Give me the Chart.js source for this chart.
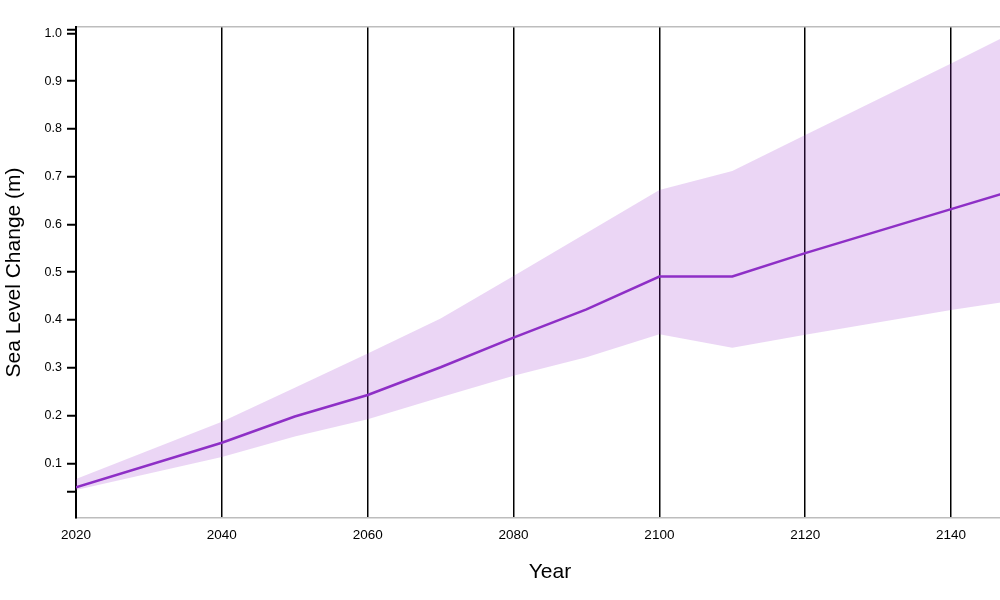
<!DOCTYPE html>
<html>
<head>
<meta charset="utf-8">
<script src="https://cdn.jsdelivr.net/npm/chart.js@4.4.1/dist/chart.umd.min.js"></script>
<style>
html, body { margin: 0; padding: 0; overflow: hidden; background: #fff; }
canvas { display: block; }
</style>
</head>
<body>
<canvas id="c" width="1024" height="600"></canvas>
<script>
// ---- data ----
const years      = [2020, 2040, 2050, 2060, 2070, 2080, 2090, 2100, 2110, 2120, 2140, 2150];
const medianRise = [0.050, 0.143, 0.198, 0.243, 0.301, 0.363, 0.422, 0.491, 0.491, 0.540, 0.632, 0.678];
const upperRise  = [0.067, 0.187, 0.258, 0.330, 0.403, 0.492, 0.582, 0.672, 0.712, 0.787, 0.937, 1.013];
const lowerRise  = [0.044, 0.113, 0.156, 0.192, 0.238, 0.283, 0.322, 0.370, 0.342, 0.369, 0.421, 0.444];

const xTickValues = [2020, 2040, 2060, 2080, 2100, 2120, 2140];
const yTickValues = [0.1, 0.2, 0.3, 0.4, 0.5, 0.6, 0.7, 0.8, 0.9, 1.0];
const yOuterTicks = [0.04, 1.008];   // unlabeled domain-end ticks
const xMin = 2020, xMax = 2150;
const yMin = -0.0145, yMax = 1.0132;

const FONT = "Arial, 'Liberation Sans', Helvetica, sans-serif";

const toPts = arr => years.map((y, i) => ({ x: y, y: arr[i] }));

new Chart(document.getElementById('c'), {
  type: 'line',
  data: {
    datasets: [
      {
        label: 'Upper',
        data: toPts(upperRise),
        borderWidth: 0,
        borderColor: 'rgba(0,0,0,0)',
        backgroundColor: 'rgba(153, 51, 204, 0.2)',
        pointRadius: 0,
        fill: '+1',
        tension: 0
      },
      {
        label: 'Lower',
        data: toPts(lowerRise),
        borderWidth: 0,
        borderColor: 'rgba(0,0,0,0)',
        pointRadius: 0,
        fill: false,
        tension: 0
      },
      {
        label: 'Median',
        data: toPts(medianRise),
        borderColor: '#8b2fc5',
        borderWidth: 2.5,
        pointRadius: 0,
        fill: false,
        tension: 0
      }
    ]
  },
  options: {
    responsive: false,
    animation: false,
    layout: { padding: { top: 27, right: 0, bottom: 0, left: 0 } },
    plugins: { legend: { display: false }, tooltip: { enabled: false } },
    scales: {
      x: {
        type: 'linear',
        min: xMin,
        max: xMax,
        afterBuildTicks: s => { s.ticks = xTickValues.map(v => ({ value: v })); },
        afterFit: s => { s.height = 82; },
        ticks: {
          autoSkip: false,
          maxRotation: 0,
          color: '#000',
          padding: 9,
          font: { family: FONT, size: 13.5 },
          callback: v => String(v)
        },
        grid: {
          drawTicks: false,
          lineWidth: 1.5,
          color: ctx => (ctx.tick && ctx.tick.value === xMin) ? 'rgba(0,0,0,0)' : '#000'
        },
        border: { color: '#bdbdbd', width: 1.5 },
        title: {
          display: true,
          text: 'Year',
          color: '#000',
          font: { family: FONT, size: 21 },
          padding: { top: 0, bottom: 15 }
        }
      },
      y: {
        type: 'linear',
        min: yMin,
        max: yMax,
        afterBuildTicks: s => {
          s.ticks = [yOuterTicks[0], ...yTickValues, yOuterTicks[1], yMax].map(v => ({ value: v }));
        },
        afterFit: s => { s.width = 76; },
        ticks: {
          color: '#000',
          padding: 5,
          font: { family: FONT, size: 12.5 },
          callback: v => yTickValues.includes(v) ? v.toFixed(1) : ''
        },
        grid: {
          drawOnChartArea: true,
          lineWidth: 1.5,
          tickLength: 9,
          tickWidth: 2,
          color: ctx => (ctx.tick && ctx.tick.value === yMax) ? '#bdbdbd' : 'rgba(0,0,0,0)',
          tickColor: ctx => (ctx.tick && ctx.tick.value === yMax) ? 'rgba(0,0,0,0)' : '#000'
        },
        border: { color: '#000', width: 2 },
        title: {
          display: true,
          text: 'Sea Level Change (m)',
          color: '#000',
          font: { family: FONT, size: 21 },
          padding: { top: 2, bottom: 0 }
        }
      }
    }
  }
});
</script>
</body>
</html>
